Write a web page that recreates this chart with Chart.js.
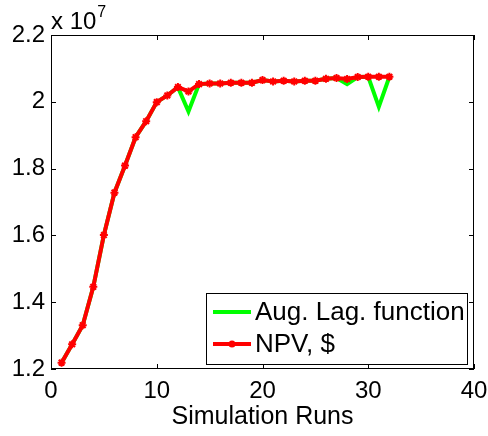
<!DOCTYPE html>
<html>
<head>
<meta charset="utf-8">
<script src="https://cdn.jsdelivr.net/npm/chart.js@4"></script>
<style>
  body { margin: 0; background: #fff; }
  #wrap { width: 488px; height: 436px; }
</style>
</head>
<body>
<div id="wrap"><canvas id="chart" width="488" height="436"></canvas></div>
<script>
// values in units of 1e7
const runs = [1, 2, 3, 4, 5, 6, 7, 8, 9, 10, 11, 12, 13, 14, 15, 16,
  17, 18, 19, 20, 21, 22, 23, 24, 25, 26, 27, 28, 29, 30, 31, 32];
const npv = [1.219, 1.274, 1.331, 1.446, 1.601, 1.728, 1.809, 1.894, 1.942, 1.999, 2.019, 2.044,
  2.031, 2.053, 2.055, 2.055, 2.057, 2.057, 2.057, 2.065, 2.061, 2.063, 2.061, 2.063,
  2.063, 2.069, 2.071, 2.068, 2.074, 2.075, 2.075, 2.075];
const augLag = [1.219, 1.274, 1.331, 1.446, 1.601, 1.728, 1.809, 1.894, 1.942, 1.999, 2.019, 2.044,
  1.971, 2.053, 2.055, 2.055, 2.057, 2.057, 2.057, 2.065, 2.061, 2.063, 2.061, 2.063,
  2.063, 2.069, 2.071, 2.053, 2.074, 2.075, 1.985, 2.075];
const xTicks = [0, 10, 20, 30, 40];
const yTicks = [1.2, 1.4, 1.6, 1.8, 2.0, 2.2];
const seriesNames = ['Aug. Lag. function', 'NPV, $'];

const FONT = "'Liberation Sans', Arial, sans-serif";

function toPoints(ys) {
  return runs.map((r, i) => ({ x: r, y: ys[i] }));
}

// box around the plot plus inward ticks on all four sides
const boxTicks = {
  id: 'boxTicks',
  afterDraw(chart) {
    const { ctx, chartArea: a, scales } = chart;
    ctx.save();
    ctx.strokeStyle = '#000';
    ctx.lineWidth = 1;
    ctx.strokeRect(a.left + 0.5, a.top + 0.5, a.right - a.left - 1, a.bottom - a.top - 1);
    const len = 5;
    ctx.beginPath();
    xTicks.forEach(v => {
      const px = Math.round(scales.x.getPixelForValue(v)) + 0.5;
      ctx.moveTo(px, a.bottom); ctx.lineTo(px, a.bottom - len);
      ctx.moveTo(px, a.top); ctx.lineTo(px, a.top + len);
    });
    yTicks.forEach(v => {
      const py = Math.round(scales.y.getPixelForValue(v)) + 0.5;
      ctx.moveTo(a.left, py); ctx.lineTo(a.left + len, py);
      ctx.moveTo(a.right, py); ctx.lineTo(a.right - len, py);
    });
    ctx.stroke();

    // exponent label
    ctx.fillStyle = '#000';
    ctx.textBaseline = 'alphabetic';
    ctx.textAlign = 'left';
    ctx.font = '24px ' + FONT;
    ctx.fillText('x 10', a.left, a.top - 6);
    const w = ctx.measureText('x 10').width;
    ctx.font = '16px ' + FONT;
    ctx.fillText('7', a.left + w + 1, a.top - 18);
    ctx.restore();
  }
};

// legend box inside the axes, bottom right
const boxLegend = {
  id: 'boxLegend',
  afterDraw(chart) {
    const { ctx, chartArea: a } = chart;
    const x0 = 206, y0 = 293, x1 = a.right - 7, y1 = 364;
    ctx.save();
    ctx.fillStyle = '#fff';
    ctx.fillRect(x0, y0, x1 - x0, y1 - y0);
    ctx.strokeStyle = '#000';
    ctx.lineWidth = 1;
    ctx.strokeRect(x0 + 0.5, y0 + 0.5, x1 - x0, y1 - y0);
    const colors = ['#00ff00', '#ff0000'];
    const rows = [312, 344];
    rows.forEach((y, i) => {
      ctx.strokeStyle = colors[i];
      ctx.lineWidth = 4;
      ctx.beginPath();
      ctx.moveTo(213, y); ctx.lineTo(251, y);
      ctx.stroke();
      if (i === 1) {
        ctx.fillStyle = colors[i];
        ctx.beginPath();
        ctx.arc(232, y, 3.5, 0, Math.PI * 2);
        ctx.fill();
      }
      ctx.fillStyle = '#000';
      ctx.font = '26px ' + FONT;
      ctx.textBaseline = 'middle';
      ctx.textAlign = 'left';
      ctx.fillText(seriesNames[i], 255, y + 1);
    });
    ctx.restore();
  }
};

new Chart(document.getElementById('chart'), {
  type: 'line',
  data: {
    datasets: [
      {
        label: seriesNames[1],
        data: toPoints(npv),
        borderColor: '#ff0000',
        backgroundColor: '#ff0000',
        borderWidth: 4,
        pointStyle: 'star',
        pointRadius: 4,
        pointBorderWidth: 2,
        pointBorderColor: '#ff0000',
        tension: 0,
        order: 0
      },
      {
        label: seriesNames[0],
        data: toPoints(augLag),
        borderColor: '#00ff00',
        backgroundColor: '#00ff00',
        borderWidth: 4,
        pointRadius: 0,
        tension: 0,
        order: 1
      }
    ]
  },
  options: {
    responsive: false,
    animation: false,
    devicePixelRatio: 1,
    layout: { padding: { left: 0, right: 14, top: 35, bottom: 0 } },
    plugins: {
      legend: { display: false },
      tooltip: { enabled: false }
    },
    scales: {
      x: {
        type: 'linear',
        min: 0,
        max: 40,
        afterFit: s => { s.height = 67; s.paddingLeft = 0; s.paddingRight = 0; },
        afterBuildTicks: s => { s.ticks = xTicks.map(v => ({ value: v })); },
        grid: { display: false, drawTicks: false },
        border: { display: false },
        ticks: { color: '#000', font: { family: FONT, size: 24 }, padding: 8, maxRotation: 0 },
        title: {
          display: true,
          text: 'Simulation Runs',
          color: '#000',
          font: { family: FONT, size: 25 },
          padding: { top: 0, bottom: 4 }
        }
      },
      y: {
        min: 1.2,
        max: 2.2,
        afterFit: s => { s.width = 51; s.paddingTop = 0; s.paddingBottom = 0; },
        afterBuildTicks: s => { s.ticks = yTicks.map(v => ({ value: v })); },
        grid: { display: false, drawTicks: false },
        border: { display: false },
        ticks: {
          color: '#000',
          font: { family: FONT, size: 24 },
          padding: 6,
          callback: v => String(Number(v.toFixed(1)))
        }
      }
    }
  },
  plugins: [boxTicks, boxLegend]
});
</script>
</body>
</html>
